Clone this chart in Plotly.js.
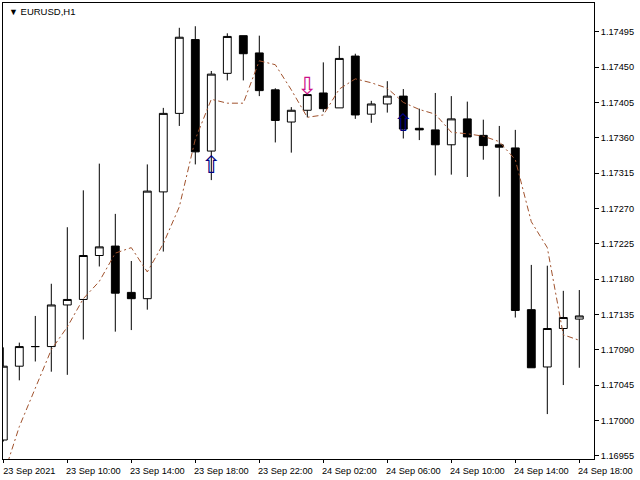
<!DOCTYPE html>
<html>
<head>
<meta charset="utf-8">
<script src="https://cdn.plot.ly/plotly-3.0.1.min.js"></script>
<style>html,body{margin:0;padding:0;background:#fff;}#chart{width:640px;height:480px;}</style>
</head>
<body>
<div id="chart"></div>
<script>
// ---- data (EURUSD, H1) ----
var times = [
  "2021-09-23 06:00","2021-09-23 07:00","2021-09-23 08:00","2021-09-23 09:00","2021-09-23 10:00",
  "2021-09-23 11:00","2021-09-23 12:00","2021-09-23 13:00","2021-09-23 14:00","2021-09-23 15:00",
  "2021-09-23 16:00","2021-09-23 17:00","2021-09-23 18:00","2021-09-23 19:00","2021-09-23 20:00",
  "2021-09-23 21:00","2021-09-23 22:00","2021-09-23 23:00","2021-09-24 00:00","2021-09-24 01:00",
  "2021-09-24 02:00","2021-09-24 03:00","2021-09-24 04:00","2021-09-24 05:00","2021-09-24 06:00",
  "2021-09-24 07:00","2021-09-24 08:00","2021-09-24 09:00","2021-09-24 10:00","2021-09-24 11:00",
  "2021-09-24 12:00","2021-09-24 13:00","2021-09-24 14:00","2021-09-24 15:00","2021-09-24 16:00",
  "2021-09-24 17:00","2021-09-24 18:00"
];
var openP  = [1.16975,1.17069,1.17094,1.17094,1.17147,1.17154,1.17210,1.17222,1.17163,1.17155,
              1.17291,1.17391,1.17485,1.17343,1.17442,1.17490,1.17468,1.17421,1.17380,1.17395,
              1.17417,1.17398,1.17464,1.17390,1.17403,1.17413,1.17372,1.17370,1.17351,1.17384,
              1.17363,1.17351,1.17347,1.17141,1.17068,1.17117,1.17129];
var highP  = [1.17093,1.17099,1.17133,1.17174,1.17246,1.17293,1.17327,1.17263,1.17203,1.17326,
              1.17398,1.17500,1.17502,1.17445,1.17493,1.17490,1.17490,1.17423,1.17399,1.17416,
              1.17456,1.17477,1.17467,1.17407,1.17432,1.17422,1.17397,1.17417,1.17413,1.17406,
              1.17383,1.17375,1.17370,1.17198,1.17197,1.17165,1.17166];
var lowP   = [1.16973,1.17051,1.17075,1.17062,1.17058,1.17103,1.17196,1.17113,1.17115,1.17141,
              1.17215,1.17375,1.17326,1.17306,1.17433,1.17433,1.17413,1.17354,1.17341,1.17386,
              1.17393,1.17398,1.17384,1.17379,1.17392,1.17359,1.17357,1.17312,1.17313,1.17310,
              1.17332,1.17285,1.17131,1.17067,1.17008,1.17045,1.17067];
var closeP = [1.17069,1.17094,1.17094,1.17147,1.17154,1.17210,1.17221,1.17162,1.17155,1.17292,
              1.17391,1.17488,1.17342,1.17441,1.17489,1.17467,1.17420,1.17382,1.17395,1.17415,
              1.17397,1.17461,1.17389,1.17403,1.17413,1.17371,1.17370,1.17351,1.17384,1.17361,
              1.17350,1.17348,1.17140,1.17067,1.17117,1.17131,1.17133];
var maLine = [1.16929,1.16992,1.17041,1.17090,1.17119,1.17155,1.17177,1.17213,1.17220,1.17189,
              1.17225,1.17272,1.17358,1.17409,1.17404,1.17404,1.17458,1.17453,1.17421,1.17386,
              1.17389,1.17422,1.17435,1.17430,1.17423,1.17405,1.17396,1.17390,1.17367,1.17365,
              1.17362,1.17355,1.17332,1.17253,1.17220,1.17109,1.17102];
var upArrowTimes = ["2021-09-23 19:00","2021-09-24 07:00"];
var upArrowPrices = [1.17323,1.17376];
var downArrowTimes = ["2021-09-24 01:00"];
var downArrowPrices = [1.17423];
var xTickVals = ["2021-09-23 06:00","2021-09-23 10:00","2021-09-23 14:00","2021-09-23 18:00","2021-09-23 22:00",
                 "2021-09-24 02:00","2021-09-24 06:00","2021-09-24 10:00","2021-09-24 14:00","2021-09-24 18:00"];
var xTickText = ["23 Sep 2021","23 Sep 10:00","23 Sep 14:00","23 Sep 18:00","23 Sep 22:00",
                 "24 Sep 02:00","24 Sep 06:00","24 Sep 10:00","24 Sep 14:00","24 Sep 18:00"];
var yTickVals = [1.16955,1.17000,1.17045,1.17090,1.17135,1.17180,1.17225,1.17270,1.17315,1.17360,1.17405,1.17450,1.17495];

var FONT = "Liberation Sans, Arial, sans-serif";

var traces = [
  {
    type: "candlestick",
    x: times, open: openP, high: highP, low: lowP, close: closeP,
    line: {width: 1},
    increasing: {line: {color: "#000000", width: 1}, fillcolor: "#ffffff"},
    decreasing: {line: {color: "#000000", width: 1}, fillcolor: "#000000"},
    whiskerwidth: 0,
    showlegend: false,
    hoverinfo: "skip"
  },
  {
    type: "scatter", mode: "lines",
    x: times, y: maLine,
    line: {color: "#A0522D", width: 1, dash: "6px,3px,2px,3px"},
    showlegend: false, hoverinfo: "skip"
  },
  {
    type: "scatter", mode: "text",
    x: upArrowTimes, y: upArrowPrices,
    text: upArrowTimes.map(function(){return "\u21E7";}),
    textposition: "middle center",
    textfont: {family: "DejaVu Sans", size: 24, color: "#000080"},
    showlegend: false, hoverinfo: "skip", cliponaxis: false
  },
  {
    type: "scatter", mode: "text",
    x: downArrowTimes, y: downArrowPrices,
    text: downArrowTimes.map(function(){return "\u21E9";}),
    textposition: "middle center",
    textfont: {family: "DejaVu Sans", size: 24, color: "#CC1188"},
    showlegend: false, hoverinfo: "skip", cliponaxis: false
  }
];

var layout = {
  width: 640, height: 480,
  margin: {l: 3, r: 46, t: 3, b: 21, pad: 0},
  paper_bgcolor: "#ffffff", plot_bgcolor: "#ffffff",
  font: {family: FONT, size: 9.2, color: "#000000"},
  showlegend: false,
  hovermode: false,
  boxgap: 0.3,
  xaxis: {
    type: "date",
    range: ["2021-09-23 05:58:52", "2021-09-24 18:55:08"],
    rangeslider: {visible: false},
    showgrid: false, zeroline: false,
    showline: true, mirror: true, linecolor: "#000000", linewidth: 1,
    ticks: "outside", ticklen: 3, tickcolor: "#000000", tickwidth: 1,
    tickmode: "array", tickvals: xTickVals, ticktext: xTickText,
    ticklabelshift: 26,
    tickfont: {family: FONT, size: 9.2, color: "#000000"}
  },
  yaxis: {
    side: "right",
    range: [1.169508, 1.175316],
    showgrid: false, zeroline: false,
    showline: true, mirror: true, linecolor: "#000000", linewidth: 1,
    ticks: "outside", ticklen: 4, tickcolor: "#000000", tickwidth: 1,
    tickmode: "array", tickvals: yTickVals,
    tickformat: ".5f",
    tickfont: {family: FONT, size: 9.2, color: "#000000"}
  },
  annotations: [
    {
      xref: "paper", yref: "paper", x: 0.006, y: 0.998,
      xanchor: "left", yanchor: "top", showarrow: false,
      text: "<span style='font-size:9px'>\u25BC</span> EURUSD,H1",
      font: {family: FONT, size: 9.5, color: "#000000"}
    }
  ]
};

Plotly.newPlot("chart", traces, layout, {displayModeBar: false, staticPlot: true});
</script>
</body>
</html>
